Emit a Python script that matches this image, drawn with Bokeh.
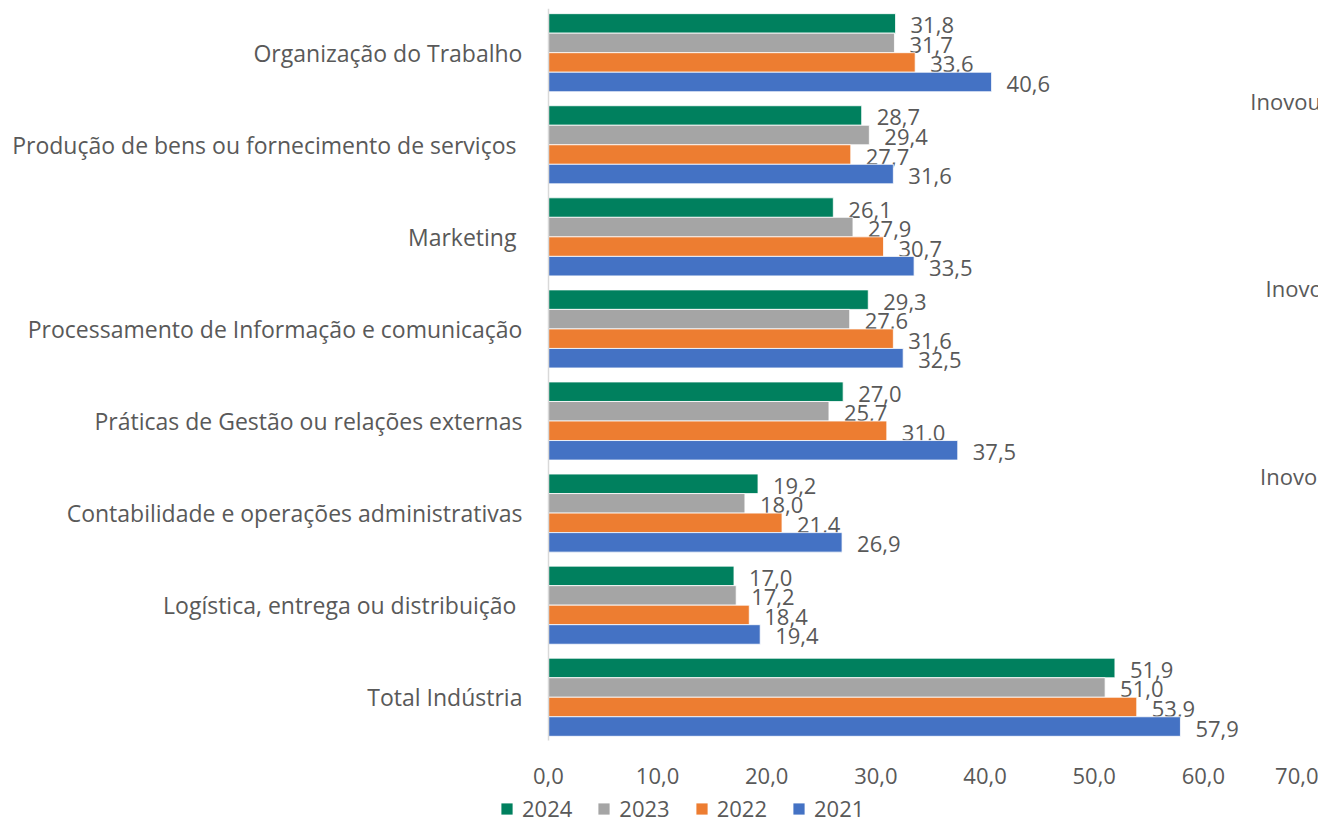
from bokeh.plotting import figure
from bokeh.models import (Range1d, FixedTicker, CustomJSTickFormatter, Legend, LegendItem,
                          ColumnDataSource, Label)
from bokeh.core.properties import value
from bokeh.embed import file_html
from bokeh.resources import INLINE

# ---------------- data ----------------
categories = [
    "Organização do Trabalho",
    "Produção de bens ou fornecimento de serviços ",
    "Marketing ",
    "Processamento de Informação e comunicação",
    "Práticas de Gestão ou relações externas",
    "Contabilidade e operações administrativas",
    "Logística, entrega ou distribuição ",
    "Total Indústria",
]
years = ["2024", "2023", "2022", "2021"]
v2024 = [31.8, 28.7, 26.1, 29.3, 27.0, 19.2, 17.0, 51.9]
v2023 = [31.7, 29.4, 27.9, 27.6, 25.7, 18.0, 17.2, 51.0]
v2022 = [33.6, 27.7, 30.7, 31.6, 31.0, 21.4, 18.4, 53.9]
v2021 = [40.6, 31.6, 33.5, 32.5, 37.5, 26.9, 19.4, 57.9]
series = [v2024, v2023, v2022, v2021]
colors = ["#00805E", "#A5A5A5", "#ED7D31", "#4472C4"]
x_ticks = [0, 10, 20, 30, 40, 50, 60, 70]
side_texts = ["Inovou e", "Inovou", "Inovou"]

FONT = "Open Sans"
TXT = "#595959"

n = len(categories)
centers = [n - 1 - i for i in range(n)]  # top category highest
bar_h = 0.212
offsets = [1.5 * bar_h, 0.5 * bar_h, -0.5 * bar_h, -1.5 * bar_h]
y_lo, y_hi = -0.47, 7.48          # extent of the bar area

p = figure(width=1318, height=823, output_backend="svg", toolbar_location=None,
           x_range=Range1d(-50.2, 70.55), y_range=Range1d(-1.371, y_hi),
           min_border_left=0, min_border_right=0, min_border_top=8,
           min_border_bottom=0)
p.outline_line_color = None
p.background_fill_color = "white"
p.border_fill_color = "white"
p.xgrid.visible = False
p.ygrid.visible = False

items = []
for yr, vals, col, off in zip(years, series, colors, offsets):
    src = ColumnDataSource(dict(
        y=[c + off for c in centers],
        v=vals,
        lab=[f"{v:.1f}".replace(".", ",") for v in vals],
    ))
    r = p.hbar(y="y", right="v", left=0, height=bar_h, source=src,
               fill_color=col, line_color="white", line_width=0.8)
    p.text(x="v", y="y", text="lab", source=src, x_offset=15, y_offset=2,
           text_font=value(FONT), text_font_size="22px", text_color=TXT,
           text_baseline="middle", text_align="left")
    items.append(LegendItem(label=yr, renderers=[r]))

# x axis (drawn at the bottom of the bar area)
xa = p.xaxis[0]
xa.fixed_location = y_lo
xa.ticker = FixedTicker(ticks=x_ticks)
xa.formatter = CustomJSTickFormatter(code="return tick.toFixed(1).replace('.', ',');")
xa.axis_line_color = None
xa.major_tick_line_color = None
xa.minor_tick_line_color = None
xa.major_tick_out = 0
xa.major_tick_in = 0
xa.major_label_standoff = 27
xa.major_label_text_font = FONT
xa.major_label_text_font_size = "22px"
xa.major_label_text_color = TXT

# y axis (drawn at x = 0)
ya = p.yaxis[0]
ya.fixed_location = 0
ya.bounds = (y_lo, y_hi)
ya.ticker = FixedTicker(ticks=centers)
ya.major_label_overrides = {c: cat for c, cat in zip(centers, categories)}
ya.axis_line_color = "#D9D9D9"
ya.axis_line_width = 1.5
ya.major_tick_line_color = None
ya.minor_tick_line_color = None
ya.major_tick_out = 0
ya.major_tick_in = 0
ya.major_label_standoff = 26
ya.major_label_text_font = FONT
ya.major_label_text_font_size = "23px"
ya.major_label_text_color = TXT

# cut-off texts from the neighbouring chart at the right edge
for t, xv, yv in zip(side_texts, [64.3, 65.7, 65.2], [6.48, 4.44, 2.40]):
    p.add_layout(Label(x=xv, y=yv, text=t, text_font=FONT, text_font_size="22px",
                       text_color=TXT, text_baseline="middle", text_align="left"))

legend = Legend(items=items, orientation="horizontal", location=(499, 0),
                label_text_font=FONT, label_text_font_size="22px",
                label_text_color=TXT, glyph_width=15, glyph_height=15,
                label_standoff=8, spacing=24, padding=0, margin=0,
                border_line_color=None, background_fill_alpha=0)
p.add_layout(legend, "center")

open("out.html", "w").write(file_html(p, INLINE))
